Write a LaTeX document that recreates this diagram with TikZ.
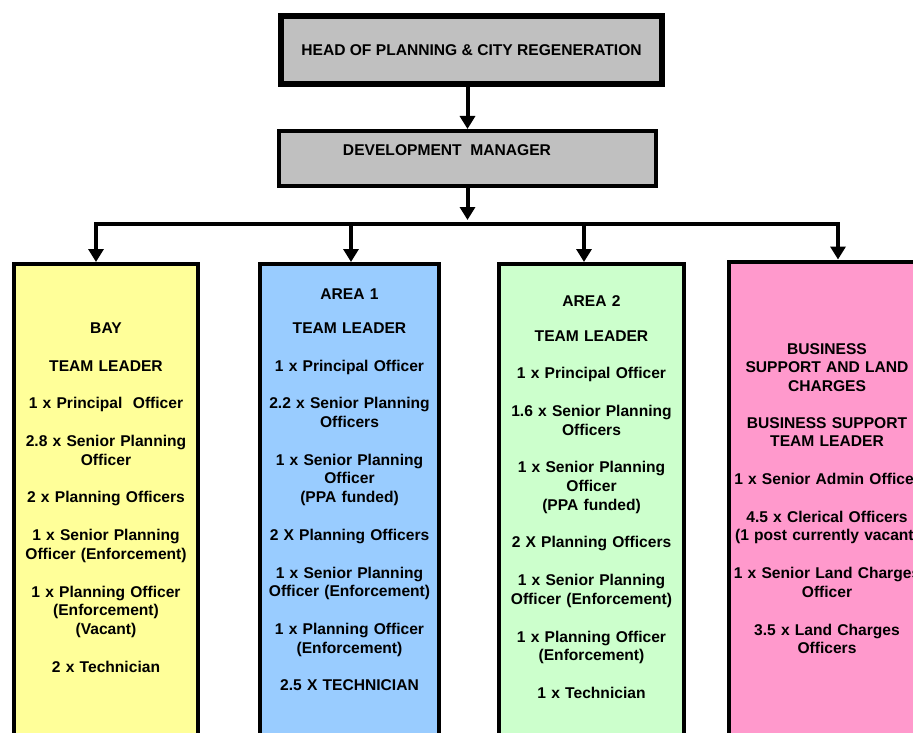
\documentclass[tikz,border=0pt]{standalone}
\usepackage{fontspec}
\setmainfont{Liberation Sans}
\usetikzlibrary{arrows.meta}

\definecolor{headgray}{HTML}{C0C0C0}
\definecolor{bayyellow}{HTML}{FFFF99}
\definecolor{areablue}{HTML}{99CCFF}
\definecolor{areagreen}{HTML}{CCFFCC}
\definecolor{bizpink}{HTML}{FF99CC}

\newcommand{\pgap}{\\[19pt]}

\tikzset{
    orgtext/.style={font=\bfseries\fontsize{15.6}{18.7}\selectfont, text=black},
    topbox/.style={draw=black, fill=headgray, inner sep=0pt},
    unitbox/.style={draw=black, line width=3.5pt, minimum height=520pt, anchor=north},
    unittext/.style={orgtext, align=center, inner sep=0pt},
    wire/.style={line width=4pt, line cap=rect},
    link/.style={line width=4pt, -{Triangle[width=15pt,length=13pt]}}
}

\begin{document}
\begin{tikzpicture}[x=1pt, y=-1pt]
    \useasboundingbox (0,0) rectangle (913,733);
    \clip (0,0) rectangle (913,733);

    \node[topbox, line width=6pt, minimum width=381pt, minimum height=68pt, orgtext] (head) at (471.5,50) {HEAD OF PLANNING \& CITY REGENERATION};
    \node[topbox, line width=4pt, minimum width=377pt, minimum height=55pt] (dev) at (467.5,158.5) {};
    \node[orgtext] (devtext) at (447,150) {DEVELOPMENT\ \ MANAGER};

    % team boxes
    \node[unitbox, fill=bayyellow, minimum width=184pt] (bay) at (106,262) {};
    \node[unitbox, fill=areablue, minimum width=179pt] (area1) at (349.5,262) {};
    \node[unitbox, fill=areagreen, minimum width=185pt] (area2) at (591.5,262) {};
    \node[unitbox, fill=bizpink, line width=4.5pt, minimum width=196pt] (biz) at (827,259.5) {};

    \node[unittext, text width=188pt] (baytext) at (106,497.5)
        {BAY\pgap TEAM LEADER\pgap 1 x Principal\ \ Officer\pgap 2.8 x Senior Planning\\Officer\pgap 2 x Planning Officers\pgap 1 x Senior Planning\\Officer (Enforcement)\pgap 1 x Planning Officer\\(Enforcement)\\(Vacant)\pgap 2 x Technician};
    \node[unittext, text width=183pt] (area1text) at (349.5,490)
        {AREA 1\\[15pt]TEAM LEADER\pgap 1 x Principal Officer\pgap 2.2 x Senior Planning\\Officers\pgap 1 x Senior Planning\\Officer\\(PPA funded)\pgap 2 X Planning Officers\pgap 1 x Senior Planning\\Officer (Enforcement)\pgap 1 x Planning Officer\\(Enforcement)\pgap 2.5 X TECHNICIAN};
    \node[unittext, text width=189pt] (area2text) at (591.5,497)
        {AREA 2\\[16pt]TEAM LEADER\pgap 1 x Principal Officer\pgap 1.6 x Senior Planning\\Officers\pgap 1 x Senior Planning\\Officer\\(PPA funded)\pgap 2 X Planning Officers\pgap 1 x Senior Planning\\Officer (Enforcement)\pgap 1 x Planning Officer\\(Enforcement)\pgap 1 x Technician};
    \node[unittext, text width=200pt] (biztext) at (827,498.5)
        {BUSINESS\\SUPPORT AND LAND\\CHARGES\\[18pt]BUSINESS SUPPORT\\TEAM LEADER\pgap 1 x Senior Admin Officer\pgap 4.5 x Clerical Officers\\(1 post currently vacant)\pgap 1 x Senior Land Charges\\Officer\pgap 3.5 x Land Charges\\Officers};

    % connectors
    \coordinate (bar) at (467.5,224);
    \coordinate (bayin) at (96,224);
    \coordinate (area1in) at (351,224);
    \coordinate (area2in) at (584,224);
    \coordinate (bizin) at (838,224);

    \draw[link] (dev.north |- head.south) -- (dev.north);
    \draw[wire] (bayin) -- (bizin);
    \draw[link] (dev.south) -- ([yshift=4pt]bar);
    \draw[link] (bayin) -- (bayin |- bay.north);
    \draw[link] (area1in) -- (area1in |- area1.north);
    \draw[link] (area2in) -- (area2in |- area2.north);
    \draw[link] (bizin) -- (bizin |- biz.north);
\end{tikzpicture}
\end{document}
